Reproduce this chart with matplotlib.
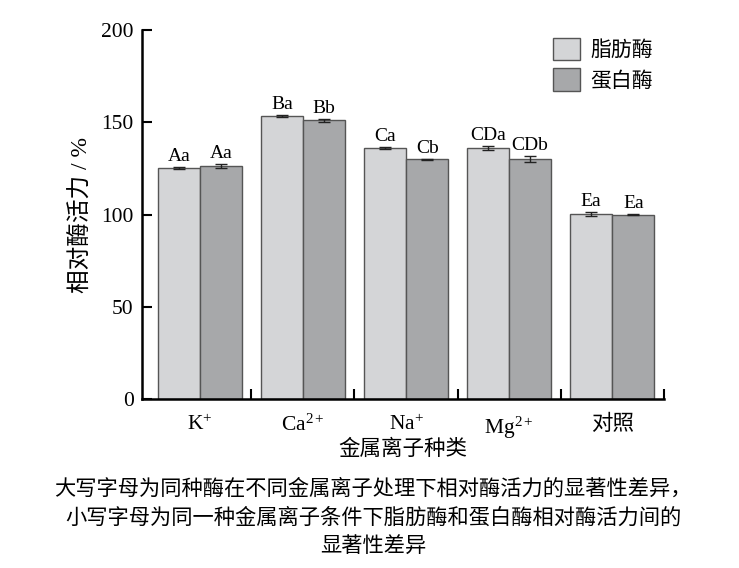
import matplotlib
matplotlib.use("Agg")
import matplotlib.pyplot as plt
import numpy as np

plt.rcParams['font.family'] = ['Liberation Serif', 'Noto Sans CJK SC', 'DejaVu Sans']
plt.rcParams['mathtext.fontset'] = 'custom'
plt.rcParams['mathtext.rm'] = 'Liberation Serif'
plt.rcParams['mathtext.it'] = 'Liberation Serif'

ions = ["K$^{+}$", "Ca$^{2+}$", "Na$^{+}$", "Mg$^{2+}$", "对照"]
lipase = [125.4, 153.5, 136.1, 136.2, 100.3]
lipase_err = [0.5, 0.7, 0.5, 1.2, 1.0]
lipase_sig = ["Aa", "Ba", "Ca", "CDa", "Ea"]
protease = [126.5, 151.2, 130.1, 130.1, 100.0]
protease_err = [1.0, 0.8, 0.3, 1.8, 0.4]
protease_sig = ["Aa", "Bb", "Cb", "CDb", "Ea"]

fig = plt.figure(figsize=(7.39, 5.68), dpi=100)
ax = fig.add_axes([0.192, 0.297, 0.706, 0.650])

x = np.arange(len(ions))
w = 0.41
err_kw = dict(ecolor='#222222', capsize=4, elinewidth=1, capthick=1)
ax.bar(x - w/2, lipase, w, yerr=lipase_err, color='#d4d5d7',
       edgecolor='#555555', linewidth=1, label='脂肪酶', error_kw=err_kw)
ax.bar(x + w/2, protease, w, yerr=protease_err, color='#a7a8aa',
       edgecolor='#555555', linewidth=1, label='蛋白酶', error_kw=err_kw)

# significance letters above each bar
for xs, vals, errs, sigs in [(x - w/2, lipase, lipase_err, lipase_sig),
                             (x + w/2, protease, protease_err, protease_sig)]:
    for xi, v, e, s in zip(xs, vals, errs, sigs):
        ax.annotate(s, (xi, v + e), xytext=(0, 1.5), textcoords='offset points',
                    ha='center', va='bottom', fontsize=14)

ax.set_xlim(-0.563, 4.5)
ax.set_ylim(0, 200)
ax.set_yticks([0, 50, 100, 150, 200])
ax.set_xticks(x)
ax.set_xticklabels(ions, fontsize=15.5)
ax.set_xticks(x + 0.5, minor=True)
ax.tick_params(axis='x', which='major', length=0, pad=11)
ax.tick_params(axis='x', which='minor', direction='in', length=7, width=1.5)
ax.tick_params(axis='y', direction='in', length=7, width=1.5, labelsize=15.5, pad=6)
for s in ['top', 'right']:
    ax.spines[s].set_visible(False)
for s in ['left', 'bottom']:
    ax.spines[s].set_linewidth(1.8)

ax.set_ylabel('相对酶活力 / %', fontsize=17, labelpad=6)
ax.set_xlabel('金属离子种类', fontsize=15.5, labelpad=-1)

ax.legend(loc='upper right', bbox_to_anchor=(1.015, 1.03), frameon=False,
          fontsize=15, handlelength=1.3, handleheight=1.3,
          handletextpad=0.5, labelspacing=0.35)

caption = ["大写字母为同种酶在不同金属离子处理下相对酶活力的显著性差异，",
           "小写字母为同一种金属离子条件下脂肪酶和蛋白酶相对酶活力间的",
           "显著性差异"]
for i, line in enumerate(caption):
    fig.text(0.505, 1 - (490 + 29 * i) / 568, line, ha='center', va='center',
             fontsize=15.3)

fig.savefig('out.png', dpi=100)
plt.close(fig)
